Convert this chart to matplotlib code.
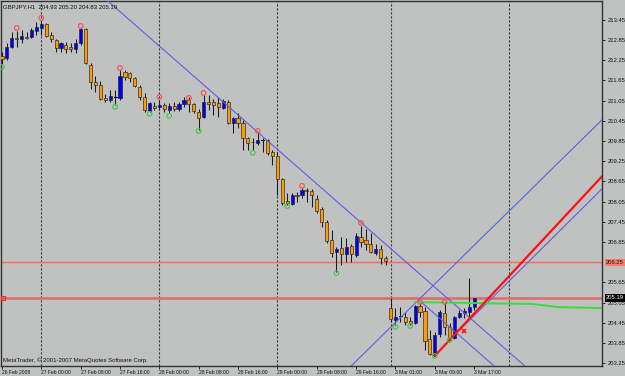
import matplotlib
matplotlib.use("Agg")
import matplotlib.pyplot as plt
import matplotlib.transforms as mtransforms
from matplotlib.patches import Rectangle

# ---------------- data (GBPJPY H1) ----------------
opens = [212.38, 212.32, 212.65, 212.92, 212.89, 212.94, 212.94, 213.12, 213.21, 213.33,
         213.00, 212.86, 212.62, 212.71, 212.65, 212.59, 212.77, 213.18, 212.11, 211.61,
         211.52, 211.13, 211.07, 211.17, 211.13, 211.90, 211.88, 211.73, 211.46, 211.16,
         210.75, 210.90, 210.87, 210.92, 210.78, 210.90, 210.81, 210.95, 211.07, 210.95,
         210.72, 210.57, 211.01, 211.01, 210.98, 210.84, 211.01, 210.39, 210.54, 210.39,
         209.94, 209.83, 209.80, 209.88, 209.88, 209.53, 209.41, 208.73, 208.07, 207.98,
         208.25, 208.25, 208.40, 208.37, 208.13, 207.83, 207.45, 206.91, 206.56, 206.68,
         206.50, 206.74, 206.47, 207.00, 206.91, 206.80, 206.53, 206.65, 206.38, 204.89,
         204.54, 204.66, 204.63, 204.51, 204.45, 204.95, 204.80, 203.97, 203.50, 204.12,
         204.74, 204.33, 204.00, 204.63, 204.74, 204.77, 204.93]
highs = [212.50, 212.77, 213.09, 213.12, 213.15, 213.09, 213.21, 213.39, 213.42, 213.36,
         213.09, 212.89, 212.80, 212.80, 212.77, 212.89, 213.21, 213.21, 212.17, 211.79,
         211.64, 211.25, 211.37, 211.37, 211.96, 211.96, 211.90, 211.76, 211.52, 211.28,
         211.01, 211.01, 211.07, 210.98, 210.98, 211.01, 211.01, 211.16, 211.16, 210.98,
         210.81, 211.22, 211.22, 211.10, 211.16, 211.10, 211.07, 210.57, 210.69, 210.48,
         209.97, 209.94, 210.09, 209.94, 209.91, 209.59, 209.53, 208.76, 208.31, 208.31,
         208.34, 208.46, 208.46, 208.43, 208.25, 207.89, 207.51, 207.21, 206.71, 207.00,
         206.97, 206.80, 207.12, 207.33, 207.24, 207.12, 206.80, 206.77, 206.44, 205.19,
         204.89, 204.92, 204.77, 204.63, 204.98, 205.04, 204.92, 204.24, 204.18, 204.83,
         205.04, 204.45, 204.66, 204.83, 204.89, 205.79, 205.20]
lows = [212.14, 212.26, 212.62, 212.65, 212.77, 212.89, 212.92, 213.00, 213.00, 212.94,
        212.80, 212.50, 212.50, 212.47, 212.50, 212.47, 212.71, 212.14, 211.40, 211.31,
        211.07, 211.01, 211.01, 210.92, 211.07, 211.67, 211.61, 211.46, 211.07, 210.72,
        210.72, 210.78, 210.78, 210.72, 210.69, 210.75, 210.75, 210.87, 210.72, 210.69,
        210.18, 210.54, 210.78, 210.63, 210.57, 210.81, 210.36, 210.09, 210.24, 209.59,
        209.59, 209.59, 209.74, 209.53, 209.44, 209.14, 208.25, 207.95, 207.95, 207.95,
        208.04, 208.16, 208.04, 207.89, 207.72, 207.30, 206.82, 206.41, 205.96, 206.17,
        206.26, 206.26, 206.41, 206.71, 206.62, 206.53, 206.47, 206.20, 206.17, 204.48,
        204.39, 204.48, 204.39, 204.38, 204.42, 204.63, 203.65, 203.50, 203.47, 204.03,
        204.09, 203.94, 203.97, 204.60, 204.60, 204.63, 204.83]
closes = [212.29, 212.65, 212.92, 212.89, 212.97, 212.92, 213.15, 213.24, 213.33, 212.97,
          212.89, 212.62, 212.77, 212.59, 212.59, 212.77, 213.18, 212.17, 211.61, 211.52,
          211.10, 211.07, 211.19, 211.16, 211.79, 211.76, 211.73, 211.49, 211.16, 210.78,
          210.98, 210.84, 210.92, 210.81, 210.90, 210.81, 210.95, 211.07, 210.95, 210.75,
          210.54, 211.01, 210.95, 210.92, 210.87, 211.04, 210.39, 210.54, 210.39, 209.94,
          209.80, 209.81, 209.88, 209.86, 209.50, 209.41, 208.73, 208.01, 208.01, 208.25,
          208.22, 208.40, 208.38, 208.25, 207.78, 207.45, 206.88, 206.53, 206.65, 206.50,
          206.71, 206.50, 207.03, 206.85, 206.80, 206.56, 206.65, 206.38, 206.29, 204.57,
          204.63, 204.65, 204.48, 204.45, 204.95, 204.77, 203.91, 203.53, 204.09, 204.77,
          204.33, 204.00, 204.63, 204.74, 204.80, 204.92, 205.19]

# fractal markers (bar index, price)
fractal_up_bars = [3, 8, 16, 24, 32, 38, 41, 52, 61, 73, 85, 90]
fractal_up_vals = [213.21, 213.51, 213.27, 212.02, 211.16, 211.13, 211.28, 210.15, 208.52, 207.42, 205.07, 205.07]
fractal_dn_bars = [0, 23, 30, 34, 40, 51, 58, 68, 80, 83, 88, 91]
fractal_dn_vals = [212.05, 210.87, 210.66, 210.60, 210.15, 209.50, 207.92, 205.93, 204.33, 204.36, 203.47, 203.94]

# green indicator line
green_bars = [84, 96, 108, 113, 122]
green_vals = [205.07, 205.04, 205.01, 204.92, 204.89]

# trend lines (two anchor points each: bars, prices)
down_line_bars = [22, 106]
down_line_vals = [213.95, 203.21]
up_line_bars = [71, 122]
up_line_vals = [203.17, 210.48]
red_ray_bars = [88, 122]
red_ray_vals = [203.47, 208.80]
blue_ray_bars = [91, 122]
blue_ray_vals = [203.94, 208.43]
down_ray_bars = [85, 101]
down_ray_vals = [205.10, 203.05]

marker_x_bar = [94]
marker_x_val = [204.20]

level_line = 206.25
bid_price = 205.19

separator_bars = [8, 32, 56, 79, 103]
time_label_bars = [0, 8, 16, 24, 32, 40, 48, 56, 64, 72, 80, 88, 96]
time_labels = ["26 Feb 2008", "27 Feb 00:00", "27 Feb 08:00", "27 Feb 16:00",
               "28 Feb 00:00", "28 Feb 08:00", "28 Feb 16:00", "29 Feb 00:00",
               "29 Feb 08:00", "29 Feb 16:00", "3 Mar 01:00", "3 Mar 09:00",
               "3 Mar 17:00"]
price_ticks = [213.45, 212.85, 212.25, 211.65, 211.05, 210.45, 209.85, 209.25, 208.65,
               208.05, 207.45, 206.85, 205.65, 205.05, 204.45, 203.85, 203.25]

title_text = "GBPJPY,H1  204.93 205.20 204.83 205.19"
copyright_text = "MetaTrader, \u00a9 2001-2007 MetaQuotes Software Corp."

# ---------------- drawing ----------------
BG = "#c0c1c1"
BULL = "#0000ee"
BEAR = "#ff9a00"
TL = "#5f5fe0"
FONT = "Liberation Sans"

plt.rcParams["font.family"] = [FONT, "DejaVu Sans"]

fig = plt.figure(figsize=(6.25, 3.76), dpi=100)
fig.patch.set_facecolor(BG)
ax = fig.add_axes([1 / 625, 10 / 376, 601 / 625, 365 / 376])
ax.set_facecolor(BG)
ax.set_xlim(-0.2, 122)
ax.set_ylim(203.17, 214.01)

# day separators
for b in separator_bars:
    ax.axvline(b, color="#3a3a3a", lw=0.8, ls=(0, (2, 1.6)), zorder=1)

# horizontal levels
ax.axhline(level_line, color="#ff6a55", lw=1.0, zorder=1.5)
ax.axhline(bid_price, color="#dd6a6a", lw=1.8, zorder=1.5)
ax.plot([0.2], [bid_price], marker="s", ms=2.5, mfc="none", mec="#ff2020", mew=0.8,
        clip_on=False, zorder=6)

# candles
for i, (o, h, l, c) in enumerate(zip(opens, highs, lows, closes)):
    ax.plot([i, i], [l, h], color="#1a1a1a", lw=0.75, zorder=2, solid_capstyle="butt")
    lo_b, hi_b = min(o, c), max(o, c)
    col = BULL if c > o else BEAR
    if hi_b - lo_b < 0.02:
        ax.plot([i - 0.32, i + 0.32], [o, o], color="#1a1a1a", lw=0.8, zorder=3)
    else:
        ax.add_patch(Rectangle((i - 0.32, lo_b), 0.64, hi_b - lo_b, facecolor=col,
                               edgecolor="#222222", lw=0.45, zorder=3))

# trend lines
ax.axline((down_line_bars[0], down_line_vals[0]), (down_line_bars[1], down_line_vals[1]),
          color=TL, lw=0.8, zorder=4)
ax.axline((up_line_bars[0], up_line_vals[0]), (up_line_bars[1], up_line_vals[1]),
          color=TL, lw=0.8, zorder=4)
ax.plot(blue_ray_bars, blue_ray_vals, color=TL, lw=0.8, zorder=4)
ax.plot(down_ray_bars, down_ray_vals, color=TL, lw=0.8, zorder=4)
ax.plot(red_ray_bars, red_ray_vals, color="#ff1010", lw=1.6, zorder=5)

# green indicator
ax.plot(green_bars, green_vals, color="#3ddc3d", lw=1.4, zorder=4.5)

# fractal markers
ax.scatter(fractal_up_bars, fractal_up_vals, s=11, facecolors="none",
           edgecolors="#ff4a4a", linewidths=0.8, zorder=6)
ax.scatter(fractal_dn_bars, fractal_dn_vals, s=11, facecolors="none",
           edgecolors="#3ccc3c", linewidths=0.8, zorder=6)
ax.plot(marker_x_bar, marker_x_val, marker="x", color="#ff1a1a", ms=3.2, mew=1.3,
        ls="none", zorder=6)

# axes styling
for side in ["left", "top", "right", "bottom"]:
    ax.spines[side].set_color("#333333")
    ax.spines[side].set_linewidth(1.0)

ax.yaxis.tick_right()
ax.set_yticks(price_ticks)
ax.set_yticklabels([f"{v:.2f}" for v in price_ticks])
ax.tick_params(axis="y", direction="out", length=2.5, width=0.6, pad=1.5,
               labelsize=4.2, colors="#111111")

ax.set_xticks(time_label_bars)
ax.set_xticklabels(time_labels)
ax.tick_params(axis="x", direction="out", length=2.5, width=0.6, pad=0.5,
               labelsize=3.6, colors="#111111")
for lab in ax.get_xticklabels():
    lab.set_horizontalalignment("left")

# price boxes on the right scale
trans = mtransforms.blended_transform_factory(ax.transAxes, ax.transData)
ax.text(1.0 + 4 / 601, level_line, f"{level_line:.2f}", transform=trans, fontsize=4.2,
        va="center", ha="left", color="#111111", clip_on=False, zorder=10,
        bbox=dict(boxstyle="square,pad=0.15", fc="#ff7a6a", ec="none"))
ax.text(1.0 + 4 / 601, bid_price, f"{bid_price:.2f}", transform=trans, fontsize=4.2,
        va="center", ha="left", color="white", clip_on=False, zorder=10,
        bbox=dict(boxstyle="square,pad=0.2", fc="black", ec="none"))

# texts
fig.text(3 / 625, 1 - 6.5 / 376, title_text, fontsize=4.3, va="center", ha="left",
         color="#111111")
fig.text(3 / 625, 1 - 360 / 376, copyright_text, fontsize=4.3, va="center", ha="left",
         color="#111111")

fig.savefig("out.png", dpi=100, facecolor=BG)
